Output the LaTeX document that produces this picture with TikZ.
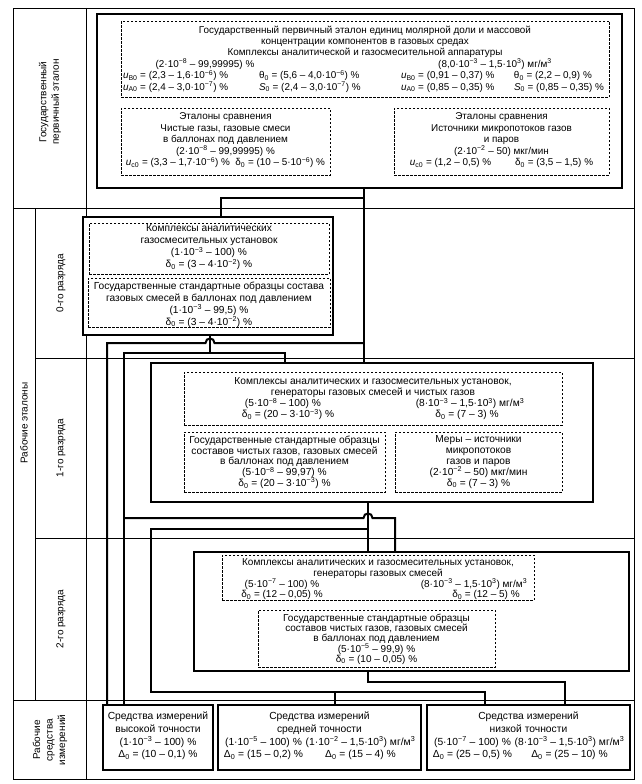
\documentclass[tikz,border=0pt]{standalone}
\usepackage{fontspec}
\setmainfont{Liberation Sans}
\usetikzlibrary{fit}
\newcommand{\psup}[1]{\textsuperscript{#1}}
\newcommand{\psub}[1]{\textsubscript{#1}}
\newcommand{\uu}[1]{\textit{u}\textsubscript{#1}}
\newcommand{\atc}[2]{\hspace*{#1}\makebox[0pt]{#2}\hspace*{-#1}}
\newcommand{\atl}[2]{\hspace*{#1}\makebox[0pt][l]{#2}\hspace*{-#1}}
\newcommand{\prow}[1]{\makebox[0pt]{#1}}
\newcommand{\fsz}[2]{\fontsize{#1}{#2}\selectfont\lineskiplimit=-20pt\relax}
\tikzset{
  tbl/.style={line width=0.7pt},
  tbox/.style={draw, line width=2.5pt, inner sep=0pt, fill=white},
  dbox/.style={draw, dash pattern=on 2.5pt off 1.5pt, line width=0.7pt, inner sep=0pt},
  txt/.style={align=center, inner sep=0pt, anchor=north},
  conn/.style={line width=2pt},
  lbl/.style={align=center, inner sep=0pt, rotate=90}
}
\begin{document}
\begin{tikzpicture}[x=1pt, y=-1pt, font={\fsz{10.2}{12}}]
\useasboundingbox (0,0) rectangle (642,784);
% table
\draw[tbl] (13,8) rectangle (634,779);
\draw[tbl] (86,8) -- (86,779);
\draw[tbl] (13,208) -- (634,208);
\draw[tbl] (35,208) -- (35,700);
\draw[tbl] (35,358) -- (634,358);
\draw[tbl] (35,538) -- (634,538);
\draw[tbl] (13,700) -- (634,700);
% row labels
\node[lbl, font={\fsz{10}{12.5}}] (lgp) at (50,102) {Государственный\\первичный эталон};
\node[lbl, font={\fsz{10}{12.5}}] (lre) at (24,423) {Рабочие эталоны};
\node[lbl, font={\fsz{10}{12.5}}] (l0l) at (61,283) {0-го разряда};
\node[lbl, font={\fsz{10}{12.5}}] (l1l) at (61,448) {1-го разряда};
\node[lbl, font={\fsz{10}{12.5}}] (l2l) at (61,619) {2-го разряда};
\node[lbl, font={\fsz{10}{12.5}}] (lrs) at (50,740) {Рабочие\\средства\\измерений};
% primary standard
\node[tbox, fit={(97,14) (622,188)}] (prim) {};
\node[dbox, fit={(121,21) (609,97)}] (pmain) {};
\node[txt, font={\fsz{9.9}{11.4}}] (pmainT) at ([yshift=-5pt]pmain.north) {Государственный первичный эталон единиц молярной доли и массовой\\
концентрации компонентов в газовых средах\\
Комплексы аналитической и газосмесительной аппаратуры\\
\prow{\atc{-160pt}{(2·10\psup{−8} – 99,99995) \%}\atc{130pt}{(8,0·10\psup{−3} – 1,5·10\psup{3}) мг/м\psup{3}}}\\
\prow{\atl{-242pt}{\uu{B0} = (2,3 – 1,6·10\psup{−6}) \%}\atl{-106pt}{θ\psub{0} = (5,6 – 4,0·10\psup{−6}) \%}\atl{36pt}{\uu{B0} = (0,91 – 0,37) \%}\atl{149pt}{θ\psub{0} = (2,2 – 0,9) \%}}\\
\prow{\atl{-242pt}{\uu{A0} = (2,4 – 3,0·10\psup{−7}) \%}\atl{-106pt}{\textit{S}\psub{0} = (2,4 – 3,0·10\psup{−7}) \%}\atl{36pt}{\uu{A0} = (0,85 – 0,35) \%}\atl{149pt}{\textit{S}\psub{0} = (0,85 – 0,35) \%}}};
\node[dbox, fit={(121,108) (330,175)}] (pcmp1) {};
\node[txt, font={\fsz{9.9}{11.5}}] (pcmp1T) at ([yshift=-5pt]pcmp1.north) {Эталоны сравнения\\Чистые газы, газовые смеси\\в баллонах под давлением\\(2·10\psup{−8} – 99,99995) \%\\\uu{c0} = (3,3 – 1,7·10\psup{−6}) \%\ \ δ\psub{0} = (10 – 5·10\psup{−6}) \%};
\node[dbox, fit={(394,108) (609,175)}] (pcmp2) {};
\node[txt, font={\fsz{9.9}{11.5}}] (pcmp2T) at ([yshift=-5pt]pcmp2.north) {Эталоны сравнения\\Источники микропотоков газов\\и паров\\(2·10\psup{−2} – 50) мкг/мин\\\uu{c0} = (1,2 – 0,5) \%\hspace{24pt}δ\psub{0} = (3,5 – 1,5) \%};
% level 0
\node[tbox, fit={(83,217) (333,335)}] (l0) {};
\node[dbox, fit={(89,223) (329,274)}] (l0a) {};
\node[txt] (l0aT) at ([yshift=-2pt]l0a.north) {Комплексы аналитических\\газосмесительных установок\\(1·10\psup{−3} – 100) \%\\δ\psub{0} = (3 – 4·10\psup{−2}) \%};
\node[dbox, fit={(88,278) (330,327)}] (l0b) {};
\node[txt] (l0bT) at ([yshift=-4pt]l0b.north) {Государственные стандартные образцы состава\\газовых смесей в баллонах под давлением\\(1·10\psup{−3} – 99,5) \%\\δ\psub{0} = (3 – 4·10\psup{−2}) \%};
% level 1
\node[tbox, fit={(151,363) (593,502)}] (l1) {};
\node[dbox, fit={(184,372) (562,425)}] (l1a) {};
\node[txt, font={\fsz{10.2}{11}}] (l1aT) at ([yshift=-6pt]l1a.north) {Комплексы аналитических и газосмесительных установок,\\генераторы газовых смесей и чистых газов\\
\prow{\atc{-90pt}{(5·10\psup{−8} – 100) \%}\atc{97pt}{(8·10\psup{−3} – 1,5·10\psup{3}) мг/м\psup{3}}}\\
\prow{\atc{-85pt}{δ\psub{0} = (20 – 3·10\psup{−3}) \%}\atc{94pt}{δ\psub{0} = (7 – 3) \%}}};
\node[dbox, fit={(184,432) (385,492)}] (l1b) {};
\node[txt, font={\fsz{10.2}{10.8}}] (l1bT) at ([yshift=-4pt]l1b.north) {Государственные стандартные образцы\\составов чистых газов, газовых смесей\\в баллонах под давлением\\(5·10\psup{−8} – 99,97) \%\\δ\psub{0} = (20 – 3·10\psup{−3}) \%};
\node[dbox, fit={(395,432) (562,492)}] (l1c) {};
\node[txt, font={\fsz{10.2}{10.8}}] (l1cT) at ([yshift=-4pt]l1c.north) {Меры – источники\\микропотоков\\газов и паров\\(2·10\psup{−2} – 50) мкг/мин\\δ\psub{0} = (7 – 3) \%};
% level 2
\node[tbox, fit={(194,552) (629,671)}] (l2) {};
\node[dbox, fit={(222,555) (534,600)}] (l2a) {};
\node[txt, font={\fsz{10}{10.7}}] (l2aT) at ([yshift=-4pt]l2a.north) {Комплексы аналитических и газосмесительных установок,\\генераторы газовых смесей\\
\prow{\atc{-96pt}{(5·10\psup{−7} – 100) \%}\atc{96pt}{(8·10\psup{−3} – 1,5·10\psup{3}) мг/м\psup{3}}}\\
\prow{\atc{-96pt}{δ\psub{0} = (12 – 0,05) \%}\atc{108pt}{δ\psub{0} = (12 – 5) \%}}};
\node[dbox, fit={(258,610) (495,667)}] (l2b) {};
\node[txt, font={\fsz{10}{10.3}}] (l2bT) at ([yshift=-4pt]l2b.north) {Государственные стандартные образцы\\составов чистых газов, газовых смесей\\в баллонах под давлением\\(5·10\psup{−5} – 99,9) \%\\δ\psub{0} = (10 – 0,05) \%};
% working measuring instruments
\node[tbox, fit={(103,705) (213,770)}] (hi) {};
\node[txt, font={\fsz{10.3}{12.7}}] (hiT) at ([yshift=-8pt]hi.north) {Средства измерений\\высокой точности\\(1·10\psup{−3} – 100) \%\\Δ\psub{0} = (10 – 0,1) \%};
\node[tbox, fit={(218,705) (421,770)}] (mid) {};
\node[txt, font={\fsz{10.3}{12.7}}] (midT) at ([yshift=-8pt]mid.north) {Средства измерений\\средней точности\\\prow{\atc{-56pt}{(1·10\psup{−5} – 100) \%}\atc{41pt}{(1·10\psup{−2} – 1,5·10\psup{3}) мг/м\psup{3}}}\\\prow{\atc{-56pt}{Δ\psub{0} = (15 – 0,2) \%}\atc{41pt}{Δ\psub{0} = (15 – 4) \%}}};
\node[tbox, fit={(427,705) (630,770)}] (lo) {};
\node[txt, font={\fsz{10.3}{12.7}}] (loT) at ([yshift=-8pt]lo.north) {Средства измерений\\низкой точности\\\prow{\atc{-56pt}{(5·10\psup{−7} – 100) \%}\atc{41pt}{(8·10\psup{−3} – 1,5·10\psup{3}) мг/м\psup{3}}}\\\prow{\atc{-56pt}{Δ\psub{0} = (25 – 0,5) \%}\atc{41pt}{Δ\psub{0} = (25 – 10) \%}}};
% routing coordinates
\coordinate (xP) at (364,0);
\coordinate (xT) at (221,0);
\coordinate (xB) at (210,0);
\coordinate (xH1) at (107,0);
\coordinate (xH2) at (124,0);
\coordinate (xQ) at (285,0);
\coordinate (xR) at (395,0);
\coordinate (xS) at (368,0);
\coordinate (xV) at (151,0);
\coordinate (xM) at (335,0);
\coordinate (xLa) at (485,0);
\coordinate (xLb) at (565,0);
\coordinate (yA) at (0,198);
\coordinate (yB) at (0,343);
\coordinate (yC) at (0,353);
\coordinate (yD) at (0,518);
\coordinate (yE) at (0,529);
\coordinate (yF) at (0,692);
\coordinate (yG) at (0,682);
% connectors from primary standard
\draw[conn] (prim.south -| xP) -- (l1.north -| xP);
\draw[conn] (xP |- yA) -| (l0.north -| xT);
\draw[conn] (xP |- yB) -- (214.5,343) .. controls (214.5,337) and (205.5,337) .. (205.5,343) -- (xH1 |- yB) -- (hi.north -| xH1);
% connectors from level 0
\draw[conn] (l0.south -| xB) -- (xB |- yC);
\draw[conn] (hi.north -| xH2) -- (xH2 |- yC) -- (xQ |- yC) -- (l1.north -| xQ);
\draw[conn] (xH2 |- yD) -- (363.5,518) .. controls (363.5,512) and (372.5,512) .. (372.5,518) -- (xR |- yD) -- (l2.north -| xR);
% connectors from level 1
\draw[conn] (l1.south -| xS) -- (l2.north -| xS);
\draw[conn] (xS |- yE) -- (xV |- yE) -- (xV |- yF) -- (xLa |- yF) -- (lo.north -| xLa);
\draw[conn] (xM |- yF) -- (mid.north -| xM);
% connectors from level 2
\draw[conn] (l2.south -| xS) -- (xS |- yG) -- (xLb |- yG) -- (lo.north -| xLb);
\end{tikzpicture}
\end{document}
